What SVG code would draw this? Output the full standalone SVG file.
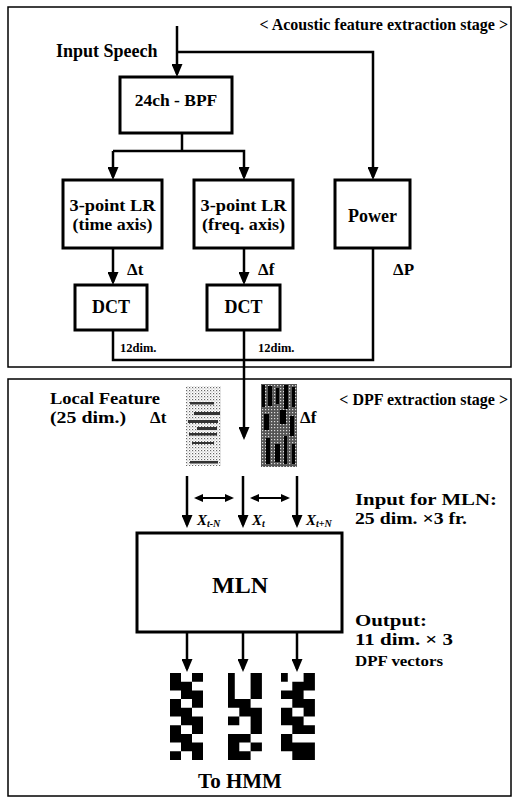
<svg xmlns="http://www.w3.org/2000/svg" width="514" height="799" viewBox="0 0 514 799">
<defs>
<style>
text{font-family:"Liberation Serif","Times New Roman",serif;font-weight:bold;fill:#000}
.box{fill:#fff;stroke:#000;stroke-width:3}
.frame{fill:none;stroke:#000;stroke-width:1.5}
.ln{fill:none;stroke:#000;stroke-width:2.5}
.lnA{fill:none;stroke:#000;stroke-width:2.5;marker-end:url(#ah)}
.dbl{fill:none;stroke:#000;stroke-width:2;marker-start:url(#sh);marker-end:url(#sh)}
.c{text-anchor:middle}
.it{font-style:italic}
</style>
<marker id="ah" viewBox="0 0 13 11" markerWidth="13" markerHeight="11" refX="10" refY="5.5" orient="auto" markerUnits="userSpaceOnUse"><path d="M0,0 L13,5.5 L0,11 z" fill="#000"/></marker>
<marker id="sh" viewBox="0 0 9 8" markerWidth="9" markerHeight="8" refX="7" refY="4" orient="auto-start-reverse" markerUnits="userSpaceOnUse"><path d="M0,0 L9,4 L0,8 z" fill="#000"/></marker>
<pattern id="dots" width="3" height="3" patternUnits="userSpaceOnUse"><rect x="0" y="0" width="1.2" height="1.2" fill="#666"/><rect x="1.5" y="1.5" width="1" height="1" fill="#999"/></pattern>
<pattern id="dark" width="3" height="3" patternUnits="userSpaceOnUse"><rect width="3" height="3" fill="#555"/><rect x="1" y="1" width="1.2" height="1.2" fill="#ddd"/></pattern>
</defs>
<rect width="514" height="799" fill="#fff"/>

<g id="frames">
<rect class="frame" x="8" y="7" width="503" height="360"/>
<rect class="frame" x="8" y="379" width="503" height="417"/>
</g>

<g id="connectors">
<path class="lnA" d="M177,26 V74"/>
<path class="lnA" d="M177,52 H373 V177"/>
<path class="ln" d="M182,133 V151"/>
<path class="lnA" d="M113,151 V177"/>
<path class="lnA" d="M113,151 H244 V177"/>
<path class="lnA" d="M113,248 V282"/>
<path class="lnA" d="M244,248 V282"/>
<path class="ln" d="M113,330 V360 H373 V248"/>
<path class="lnA" d="M244,330 V437"/>
<path class="lnA" d="M187,476 V525"/>
<path class="lnA" d="M243,476 V525"/>
<path class="lnA" d="M297,476 V525"/>
<path class="dbl" d="M196,498 H232"/>
<path class="dbl" d="M252,498 H288"/>
<path class="lnA" d="M187,632 V669"/>
<path class="lnA" d="M243,632 V669"/>
<path class="lnA" d="M297,632 V669"/>
</g>

<g id="labels-top">
<text x="508" y="30" font-size="16" text-anchor="end">&lt; Acoustic feature extraction stage &gt;</text>
<text x="56" y="57" font-size="18">Input Speech</text>
<text x="127" y="275" font-size="17">Δt</text>
<text x="258" y="275" font-size="17">Δf</text>
<text x="393" y="275" font-size="17">ΔP</text>
<text x="120" y="352" font-size="12.5">12dim.</text>
<text x="258" y="352" font-size="12.5">12dim.</text>
</g>

<g id="bpf">
<rect class="box" x="120" y="77" width="112" height="56"/>
<text class="c" x="176" y="106" font-size="17.5">24ch - BPF</text>
</g>
<g id="lr-time">
<rect class="box" x="63" y="180" width="99" height="68"/>
<text class="c" x="112.5" y="211" font-size="16.5" textLength="86" lengthAdjust="spacingAndGlyphs">3-point LR</text>
<text class="c" x="112.5" y="230" font-size="16.5" textLength="80" lengthAdjust="spacingAndGlyphs">(time axis)</text>
</g>
<g id="lr-freq">
<rect class="box" x="194" y="180" width="99" height="68"/>
<text class="c" x="243.5" y="211" font-size="16.5" textLength="86" lengthAdjust="spacingAndGlyphs">3-point LR</text>
<text class="c" x="243.5" y="230" font-size="16.5" textLength="83" lengthAdjust="spacingAndGlyphs">(freq. axis)</text>
</g>
<g id="power">
<rect class="box" x="335" y="180" width="75" height="68"/>
<text class="c" x="372.5" y="222" font-size="18">Power</text>
</g>
<g id="dct1">
<rect class="box" x="75" y="285" width="72" height="45"/>
<text class="c" x="111" y="313" font-size="18">DCT</text>
</g>
<g id="dct2">
<rect class="box" x="207" y="285" width="73" height="45"/>
<text class="c" x="243.5" y="313" font-size="18">DCT</text>
</g>

<g id="labels-bottom">
<text x="508" y="405" font-size="16" text-anchor="end">&lt; DPF extraction stage &gt;</text>
<text x="50" y="404" font-size="16" textLength="110" lengthAdjust="spacingAndGlyphs">Local Feature</text>
<text x="50" y="423" font-size="16" textLength="76" lengthAdjust="spacingAndGlyphs">(25 dim.)</text>
<text x="150" y="423" font-size="17">Δt</text>
<text x="300" y="423" font-size="17">Δf</text>
<text class="it" x="197" y="525" font-size="15">X<tspan font-size="10" dy="2">t-N</tspan></text>
<text class="it" x="252" y="525" font-size="15">X<tspan font-size="10" dy="2">t</tspan></text>
<text class="it" x="306" y="525" font-size="15">X<tspan font-size="10" dy="2">t+N</tspan></text>
<text x="355" y="505" font-size="17" textLength="142" lengthAdjust="spacingAndGlyphs">Input for MLN:</text>
<text x="355" y="524" font-size="17" textLength="112" lengthAdjust="spacingAndGlyphs">25 dim. ×3 fr.</text>
<text x="355" y="626" font-size="17" textLength="72" lengthAdjust="spacingAndGlyphs">Output:</text>
<text x="355" y="645" font-size="17" textLength="98" lengthAdjust="spacingAndGlyphs">11 dim. × 3</text>
<text x="355" y="666" font-size="15.5" textLength="88" lengthAdjust="spacingAndGlyphs">DPF vectors</text>
<text class="c" x="240" y="788" font-size="21">To HMM</text>
</g>

<g id="feat-dt">
<rect x="186" y="386" width="35" height="80" fill="url(#dots)"/>
<g fill="#333">
<rect x="190" y="402" width="24" height="2.5"/>
<rect x="194" y="412" width="26" height="3"/>
<rect x="188" y="420" width="30" height="3"/>
<rect x="197" y="427" width="20" height="3"/>
<rect x="189" y="433" width="28" height="2.5"/>
<rect x="192" y="442" width="22" height="2"/>
<rect x="190" y="461" width="28" height="2.5"/>
</g>
</g>
<g id="feat-df">
<rect x="261" y="384" width="36" height="83" fill="url(#dark)"/>
<g fill="#000">
<rect x="262" y="385" width="3" height="22"/>
<rect x="268" y="386" width="4" height="20"/>
<rect x="276" y="388" width="3" height="16"/>
<rect x="284" y="385" width="4" height="24"/>
<rect x="292" y="387" width="3" height="20"/>
<rect x="264" y="414" width="5" height="16"/>
<rect x="280" y="410" width="6" height="14"/>
<rect x="290" y="416" width="4" height="20"/>
<rect x="266" y="438" width="4" height="26"/>
<rect x="275" y="444" width="5" height="18"/>
<rect x="284" y="436" width="3" height="28"/>
<rect x="292" y="444" width="3" height="20"/>
</g>
</g>

<g id="mln">
<rect class="box" x="137" y="533" width="205" height="99"/>
<text class="c" x="240" y="593" font-size="24">MLN</text>
</g>

<g id="dpf-vectors" fill="#000">
<path transform="translate(170,673) scale(11,8.7)" d="M0 0h1v1h-1z M2 0h1v1h-1z M0 1h2v1h-2z M1 2h2v1h-2z M0 3h1v1h-1z M2 3h1v1h-1z M0 4h2v1h-2z M1 5h2v1h-2z M0 6h1v1h-1z M2 6h1v1h-1z M0 7h2v1h-2z M1 8h2v1h-2z M0 9h1v1h-1z M2 9h1v1h-1z"/>
<path transform="translate(228,673) scale(11.3,8.7)" d="M0 0h0.6v3h-0.6z M2 0h1v3h-1z M0 3h2v1h-2z M1 4h2v1h-2z M0 5h1v1h-1z M2 5h1v1h-1z M2 6h1v1h-1z M0 7h2v1h-2z M0 8h1v1h-1z M2 8h1v1h-1z M0 9h2v1h-2z"/>
<path transform="translate(281,673) scale(11.3,8.7)" d="M0 0h0.6v1h-0.6z M2 0h1v1h-1z M1 1h2v1h-2z M0 2h2v1h-2z M1 3h2v1h-2z M0 4h1v1h-1z M2 4h1v1h-1z M0 5h2v1h-2z M1 6h2v1h-2z M0 7h1v1h-1z M0 8h3v1h-3z M1 9h2v1h-2z"/>
</g>
</svg>
